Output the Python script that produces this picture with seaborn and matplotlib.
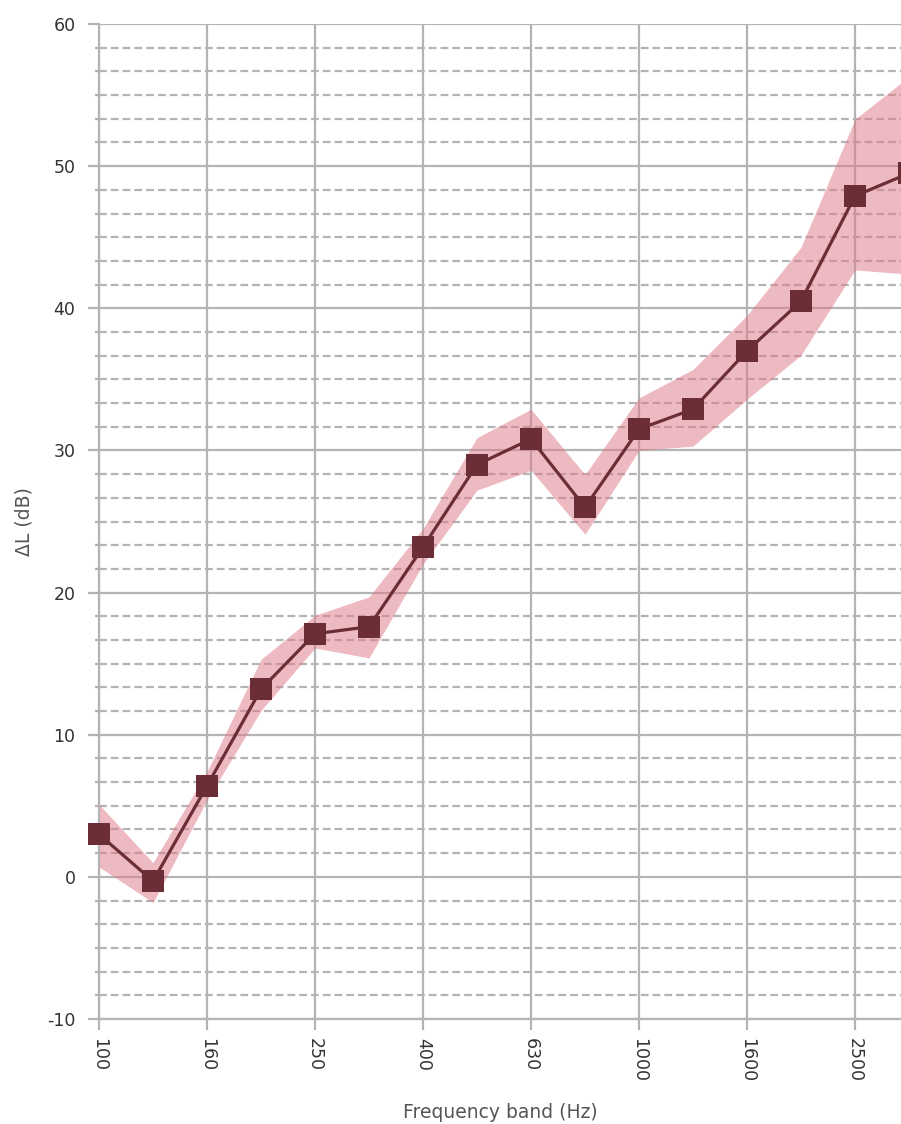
import numpy as np
import pandas as pd
import matplotlib
matplotlib.use("Agg")
import matplotlib.pyplot as plt
from matplotlib.ticker import MultipleLocator, FixedLocator
import seaborn as sns

# frequency bands (Hz) and level difference (dB)
bands = ["100", "125", "160", "200", "250", "315", "400", "500",
         "630", "800", "1000", "1250", "1600", "2000", "2500", "3150"]
dl_mean = [3.0, -0.3, 6.4, 13.2, 17.1, 17.6, 23.2, 29.0,
           30.8, 26.0, 31.5, 32.9, 37.0, 40.5, 47.9, 49.5]
dl_upper = [5.1, 1.0, 7.4, 15.3, 18.4, 19.7, 24.5, 30.9,
            32.9, 28.3, 33.7, 35.7, 39.5, 44.3, 53.3, 56.3]
dl_lower = [0.7, -1.8, 5.4, 11.7, 16.1, 15.4, 22.0, 27.2,
            28.6, 24.1, 30.0, 30.3, 33.6, 36.7, 42.7, 42.4]

df = pd.DataFrame({"pos": np.arange(len(bands)), "band": bands,
                   "mean": dl_mean, "upper": dl_upper, "lower": dl_lower})

sns.set_style("white")
plt.rcParams["font.family"] = ["DejaVu Sans"]
plt.rcParams["axes.unicode_minus"] = False

grid_col = "#b4b4b4"
text_col = "#333333"
label_col = "#555555"
line_col = "#6b2d36"

fig = plt.figure(figsize=(9.01, 11.24), dpi=100)
ax = fig.add_axes([99 / 901, 1 - 1019 / 1124, 1 - 99 / 901, (1019 - 24) / 1124])

# grid
ax.set_axisbelow(True)
ax.yaxis.set_major_locator(MultipleLocator(10))
ax.yaxis.set_minor_locator(MultipleLocator(10 / 6))
ax.xaxis.set_major_locator(FixedLocator(df["pos"][::2]))
ax.grid(which="major", axis="both", color=grid_col, lw=1.6, ls="-")
ax.grid(which="minor", axis="y", color=grid_col, lw=1.6, ls=(0, (3.5, 1.8)))

# uncertainty band + mean line
ax.fill_between(df["pos"], df["lower"], df["upper"], color="#e07c8a",
                alpha=0.52, lw=0, clip_on=False, zorder=2)
sns.lineplot(data=df, x="pos", y="mean", ax=ax, color=line_col, lw=2.3,
             marker="s", markersize=16, markeredgewidth=0, clip_on=False,
             zorder=3)

ax.set_xlim(0, (901 - 99) / 54)
ax.set_ylim(-10, 60)
ax.set_xticklabels(df["band"][::2], rotation=-90)

for side in ["top", "right"]:
    ax.spines[side].set_visible(False)
for side in ["left", "bottom"]:
    ax.spines[side].set_color(grid_col)
    ax.spines[side].set_linewidth(1.6)

ax.tick_params(axis="y", which="major", length=8, width=1.6, color=grid_col,
               labelsize=12.5, labelcolor=text_col, pad=9, left=True)
ax.tick_params(axis="y", which="minor", length=3, width=1.6, color=grid_col,
               left=True)
ax.tick_params(axis="x", which="major", length=8, width=1.6, color=grid_col,
               labelsize=12.5, labelcolor=text_col, pad=6, bottom=True)

ax.set_xlabel("Frequency band (Hz)", fontsize=13.5, color=label_col, labelpad=15)
ax.set_ylabel("ΔL (dB)", fontsize=13.5, color=label_col, labelpad=10)

fig.savefig("out.png", dpi=100)
